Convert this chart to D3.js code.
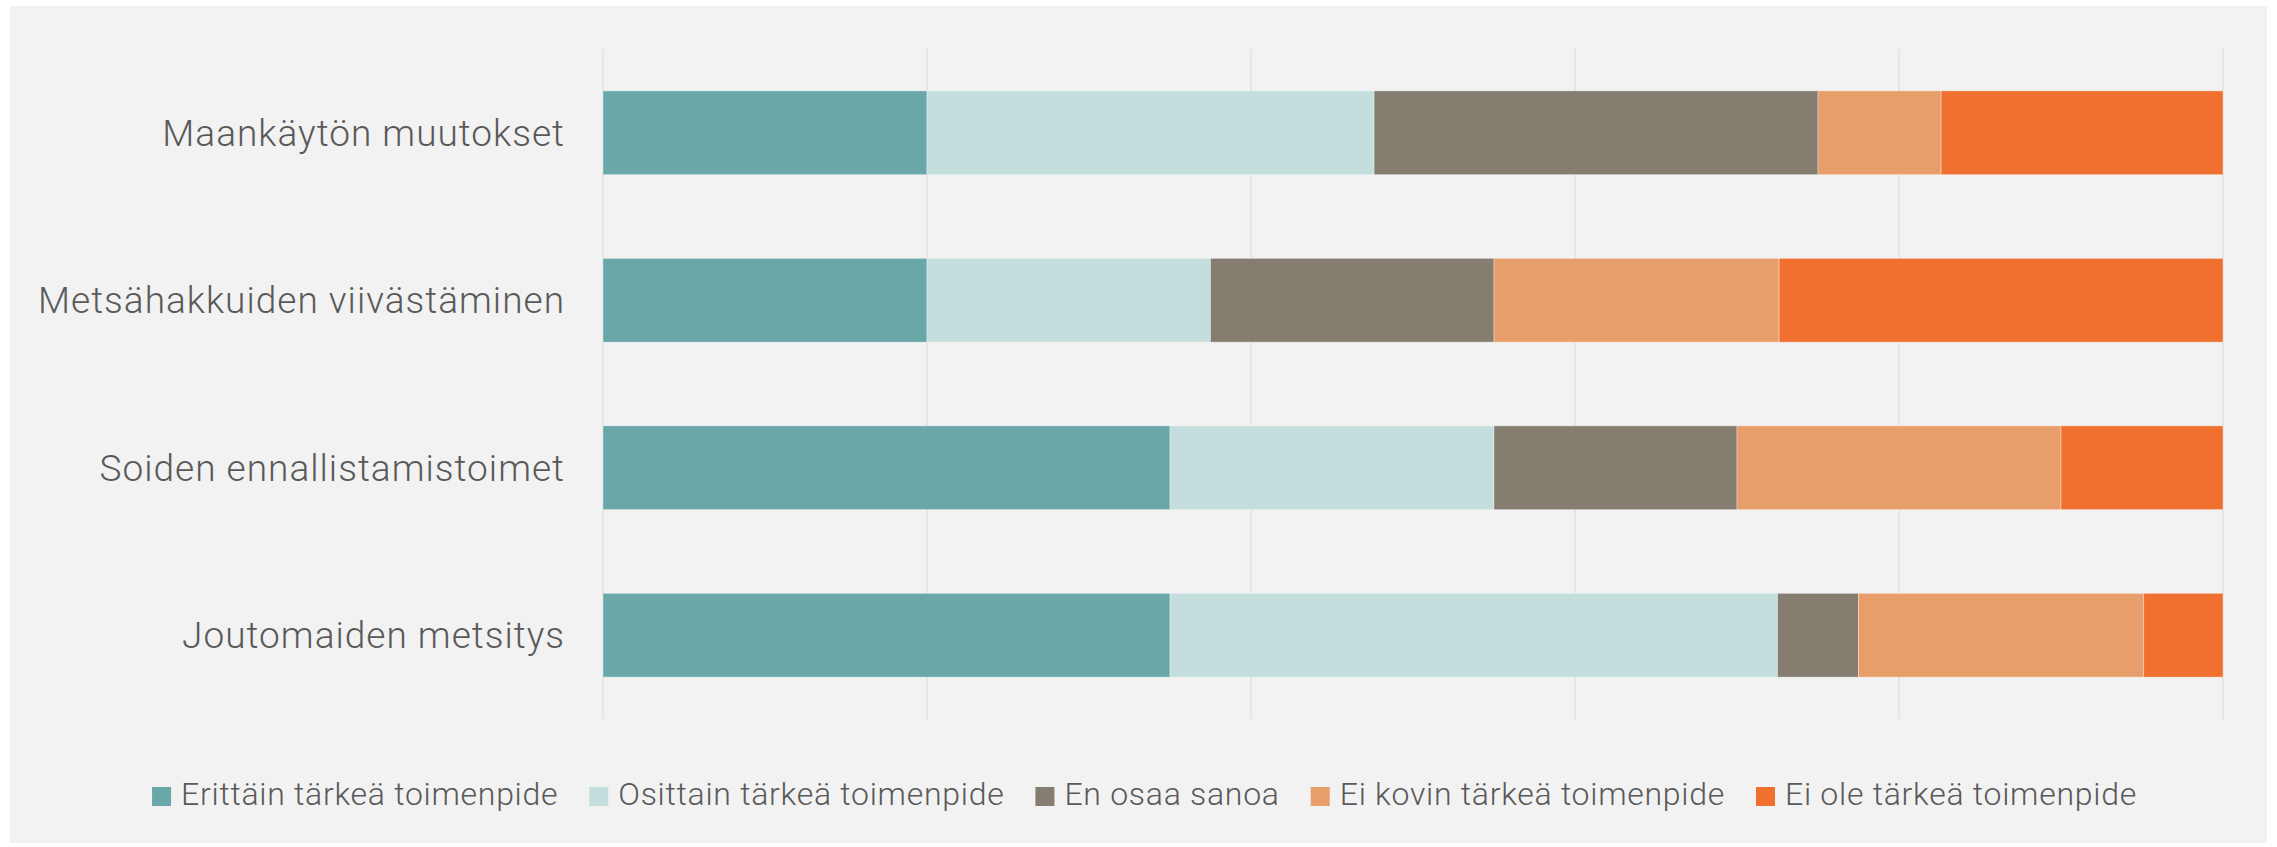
<!DOCTYPE html>
<html>
<head>
<meta charset="utf-8">
<script src="https://cdn.jsdelivr.net/npm/d3@7"></script>
<style>
  html, body { margin: 0; padding: 0; background: #ffffff; }
  svg { display: block; }
</style>
</head>
<body>
<svg id="chart" width="2277" height="847"></svg>
<script>
// Categories (top to bottom) and series, values in percent
var categories = [
    'Maankäytön muutokset',
    'Metsähakkuiden viivästäminen',
    'Soiden ennallistamistoimet',
    'Joutomaiden metsitys'
];
var seriesNames = [
    'Erittäin tärkeä toimenpide',
    'Osittain tärkeä toimenpide',
    'En osaa sanoa',
    'Ei kovin tärkeä toimenpide',
    'Ei ole tärkeä toimenpide'
];
var erittain = [20, 20, 35, 35];
var osittain = [27.6, 17.5, 20, 37.5];
var enOsaa   = [27.4, 17.5, 15, 5];
var eiKovin  = [7.6, 17.6, 20, 17.6];
var eiOle    = [17.4, 27.4, 10, 4.9];
var xTicks   = [0, 20, 40, 60, 80, 100];

var colors = ['#6AA7A9', '#C4DEDE', '#857D70', '#E89E6B', '#F07030'];

var W = 2277, H = 847;
var margin = {left: 603, right: 54, top: 49, bottom: 128};

var svg = d3.select('#chart');

// panel background
svg.append('rect')
    .attr('x', 10).attr('y', 6)
    .attr('width', 2257).attr('height', 837)
    .attr('fill', '#F2F2F2');

var x = d3.scaleLinear()
    .domain([0, 100])
    .range([margin.left, W - margin.right]);

var y = d3.scaleBand()
    .domain(categories)
    .range([margin.top, H - margin.bottom])
    .paddingInner(0.5)
    .paddingOuter(0.25);

// gridlines
svg.append('g')
    .selectAll('line')
    .data(xTicks)
    .enter().append('line')
    .attr('x1', function(d) { return x(d); })
    .attr('x2', function(d) { return x(d); })
    .attr('y1', margin.top)
    .attr('y2', H - margin.bottom)
    .attr('stroke', '#DCDCDC')
    .attr('stroke-width', 1.2);

// stack the series
var table = categories.map(function(c, i) {
    return {
        cat: c,
        s0: erittain[i], s1: osittain[i], s2: enOsaa[i], s3: eiKovin[i], s4: eiOle[i]
    };
});
var stack = d3.stack().keys(['s0', 's1', 's2', 's3', 's4']);
var stacked = stack(table);

svg.append('g')
    .selectAll('g')
    .data(stacked)
    .enter().append('g')
    .attr('fill', function(d, i) { return colors[i]; })
    .selectAll('rect')
    .data(function(d) { return d; })
    .enter().append('rect')
    .attr('x', function(d) { return x(d[0]); })
    .attr('y', function(d) { return y(d.data.cat); })
    .attr('width', function(d) { return x(d[1]) - x(d[0]); })
    .attr('height', y.bandwidth())
    .attr('stroke', 'rgba(255,255,255,0.35)')
    .attr('stroke-width', 1);

// category labels
var yAxis = svg.append('g')
    .attr('transform', 'translate(' + (margin.left - 38) + ',0)')
    .call(d3.axisLeft(y).tickSize(0).tickPadding(0));
yAxis.select('.domain').remove();
yAxis.selectAll('text')
    .attr('fill', '#595959')
    .attr('font-family', 'Roboto, sans-serif')
    .attr('font-weight', 300)
    .attr('font-size', 37)
    .attr('letter-spacing', 1)
    .attr('dy', '0.35em');

// legend
var legend = svg.append('g');
var items = legend.selectAll('g')
    .data(seriesNames)
    .enter().append('g');
items.append('rect')
    .attr('width', 19).attr('height', 19)
    .attr('y', 787)
    .attr('fill', function(d, i) { return colors[i]; });
items.append('text')
    .attr('x', 29)
    .attr('y', 805)
    .attr('fill', '#595959')
    .attr('font-family', 'Roboto, sans-serif')
    .attr('font-weight', 300)
    .attr('font-size', 32)
    .attr('letter-spacing', 0.72)
    .text(function(d) { return d; });

var pos = 0;
var offsets = [];
items.each(function() {
    var w = d3.select(this).select('text').node().getComputedTextLength();
    offsets.push(pos);
    pos += 29 + w + 31;
});
var total = pos - 31;
var startX = 1144.5 - total / 2;
items.attr('transform', function(d, i) { return 'translate(' + (startX + offsets[i]) + ',0)'; });
</script>
</body>
</html>
